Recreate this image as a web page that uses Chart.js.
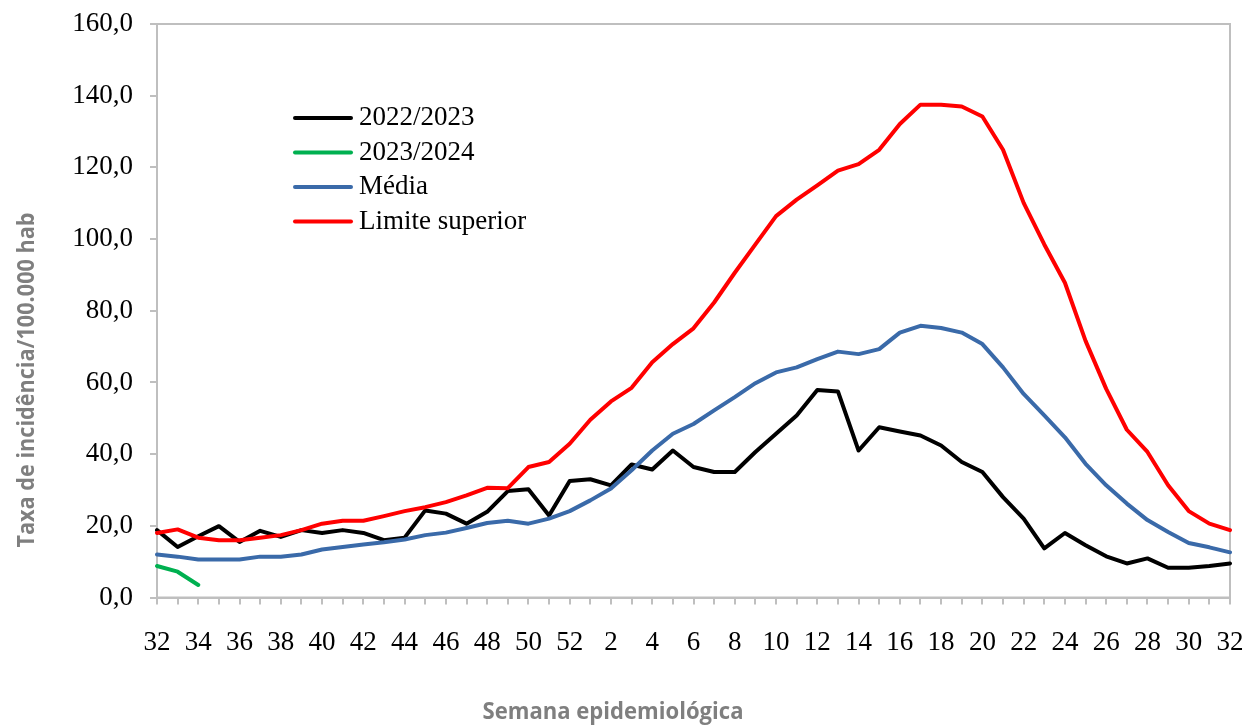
<!DOCTYPE html>
<html lang="pt-BR">
<head>
<meta charset="utf-8">
<title>Taxa de incidência por semana epidemiológica</title>
<script src="https://cdn.jsdelivr.net/npm/chart.js@4.4.1/dist/chart.umd.min.js"></script>
<style>
    html, body { margin: 0; padding: 0; background: #fff; }
    #grafico { display: block; }
</style>
</head>
<body>
<canvas id="grafico" width="1247" height="726"></canvas>
<script>
// ── Dados ────────────────────────────────────────────────────

const semanas = [32, 33, 34, 35, 36, 37, 38, 39, 40, 41, 42, 43, 44, 45, 46, 47, 48, 49, 50, 51, 52,
                 1, 2, 3, 4, 5, 6, 7, 8, 9, 10, 11, 12, 13, 14, 15, 16, 17, 18, 19, 20,
                 21, 22, 23, 24, 25, 26, 27, 28, 29, 30, 31, 32];

const serie2022 = [18.8, 14.1, 17.1, 19.9, 15.5, 18.6, 16.9, 18.8, 18.0, 18.8, 18.0, 16.0, 16.7, 24.3,
                   23.4, 20.6, 23.9, 29.7, 30.2, 22.9, 32.5, 33.0, 31.3, 37.1, 35.7, 41.0, 36.4, 35.0,
                   35.0, 40.6, 45.7, 50.8, 57.9, 57.5, 41.0, 47.5, 46.3, 45.2, 42.4, 37.8, 35.0, 28.0,
                   22.0, 13.7, 18.0, 14.6, 11.5, 9.5, 10.9, 8.3, 8.3, 8.8, 9.5];

const serie2023 = [8.8, 7.2, 3.5];

const media = [12.0, 11.4, 10.6, 10.6, 10.6, 11.4, 11.4, 12.0, 13.4, 14.1, 14.8, 15.4, 16.2, 17.4,
               18.1, 19.4, 20.8, 21.4, 20.6, 22.0, 24.1, 27.1, 30.4, 35.5, 41.0, 45.7, 48.4, 52.2,
               55.9, 59.8, 62.8, 64.2, 66.5, 68.6, 67.9, 69.3, 73.9, 75.8, 75.2, 73.9, 70.7, 64.2,
               56.8, 50.8, 44.7, 37.3, 31.3, 26.2, 21.6, 18.3, 15.2, 14.0, 12.6];

const limiteSuperior = [18.0, 19.0, 16.7, 16.0, 16.0, 16.7, 17.4, 18.8, 20.6, 21.4, 21.4, 22.7, 24.1, 25.2,
                        26.6, 28.5, 30.6, 30.5, 36.4, 37.8, 42.9, 49.6, 54.7, 58.5, 65.6, 70.7, 75.1, 82.3,
                        90.6, 98.5, 106.4, 111.0, 115.0, 119.1, 120.9, 124.9, 132.1, 137.5, 137.5, 137.0, 134.2, 124.9,
                        110.1, 98.5, 87.8, 71.6, 58.2, 46.8, 40.6, 31.3, 24.1, 20.6, 18.8];

const nomesSeries = ['2022/2023', '2023/2024', 'Média', 'Limite superior'];
const coresSeries = ['#000000', '#00b050', '#3a6aa9', '#ff0000'];

const tituloY = 'Taxa de incidência/100.000 hab';
const tituloX = 'Semana epidemiológica';

const CINZA = '#bfbfbf';
const FONTE_SERIF = '"Liberation Serif", "Times New Roman", serif';

// ── Plugins ──────────────────────────────────────────────────

// moldura cinza em volta da área do gráfico
const moldura = {
    id: 'moldura',
    beforeDatasetsDraw(chart) {
        const { ctx, chartArea: a } = chart;
        ctx.save();
        ctx.strokeStyle = CINZA;
        ctx.lineWidth = 2;
        ctx.strokeRect(a.left, a.top, a.right - a.left, a.bottom - a.top);
        ctx.restore();
    }
};

// texto em negrito "comprimido" para imitar a fonte estreita do original
function textoAjustado(ctx, texto, cx, cy, rot, largura) {
    ctx.save();
    ctx.translate(cx, cy);
    ctx.rotate(rot);
    const w = ctx.measureText(texto).width;
    ctx.scale(largura / w, 1);
    ctx.textAlign = 'center';
    ctx.textBaseline = 'middle';
    ctx.fillText(texto, 0, 0);
    ctx.restore();
}

const titulos = {
    id: 'titulos',
    afterDraw(chart) {
        const ctx = chart.ctx;
        ctx.save();
        ctx.fillStyle = '#7f7f7f';
        ctx.font = 'bold 24px "Open Sans", sans-serif';
        textoAjustado(ctx, tituloY, 27, 380, -Math.PI / 2, 335);
        textoAjustado(ctx, tituloX, 613, 712, 0, 261);
        ctx.restore();
    }
};

// legenda dentro da área do gráfico, canto superior esquerdo
const legenda = {
    id: 'legenda',
    afterDraw(chart) {
        const ctx = chart.ctx;
        ctx.save();
        ctx.font = '27px ' + FONTE_SERIF;
        ctx.textBaseline = 'middle';
        ctx.lineCap = 'round';
        ctx.lineWidth = 4;
        chart.data.datasets.forEach((ds, i) => {
            const y = 118 + i * 34.5;
            ctx.strokeStyle = ds.borderColor;
            ctx.beginPath();
            ctx.moveTo(295, y);
            ctx.lineTo(351, y);
            ctx.stroke();
            ctx.fillStyle = '#000';
            ctx.fillText(ds.label, 359, y);
        });
        ctx.restore();
    }
};

// ── Gráfico ──────────────────────────────────────────────────

const series = [serie2022, serie2023, media, limiteSuperior];

const datasets = series.map((dados, i) => ({
    label: nomesSeries[i],
    data: dados,
    borderColor: coresSeries[i],
    backgroundColor: coresSeries[i],
    order: series.length - i, // limite superior por cima
}));

const eixoComum = {
    grid: { drawOnChartArea: false, drawTicks: true, tickLength: 7, color: CINZA, lineWidth: 2 },
    border: { color: CINZA, width: 2 },
};

new Chart(document.getElementById('grafico'), {
    type: 'line',
    data: { labels: semanas, datasets },
    options: {
        responsive: false,
        animation: false,
        layout: { padding: { left: 0, top: 24, right: 17, bottom: 0 } },
        plugins: { legend: { display: false }, tooltip: { enabled: false } },
        elements: {
            point: { radius: 0 },
            line: { tension: 0, borderWidth: 4, borderJoinStyle: 'round', borderCapStyle: 'round' },
        },
        scales: {
            x: {
                ...eixoComum,
                offset: false,
                ticks: {
                    autoSkip: false, maxRotation: 0, padding: 22, color: '#000',
                    font: { family: FONTE_SERIF, size: 27 },
                    callback: (v, i) => (i % 2 === 0 ? semanas[i] : ''),
                },
                // tamanho fixo, sem a folga automática das pontas
                afterFit: s => { s.height = 726 - 597.5; s.paddingLeft = 0; s.paddingRight = 0; },
            },
            y: {
                ...eixoComum,
                min: 0, max: 160,
                ticks: {
                    stepSize: 20, padding: 17, color: '#000',
                    font: { family: FONTE_SERIF, size: 27 },
                    callback: v => v.toFixed(1).replace('.', ','),
                },
                afterFit: s => { s.width = 157; s.paddingTop = 0; s.paddingBottom = 0; },
            },
        },
    },
    plugins: [moldura, titulos, legenda],
});
</script>
</body>
</html>
